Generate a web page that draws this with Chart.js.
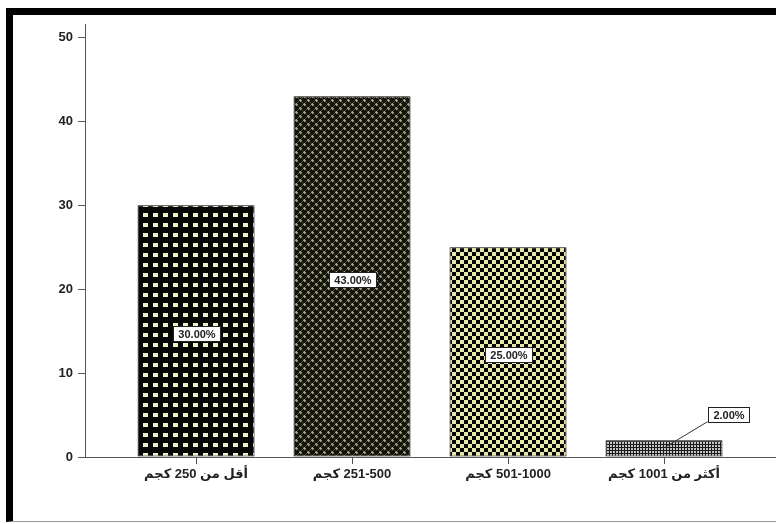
<!DOCTYPE html>
<html>
<head>
<meta charset="utf-8">
<script src="https://cdn.jsdelivr.net/npm/chart.js@4/dist/chart.umd.min.js"></script>
<style>
  html, body { margin: 0; padding: 0; background: #fff; }
  #wrap { position: relative; width: 776px; height: 524px; overflow: hidden; }
  #chart { position: absolute; left: 0; top: 0; }
  #frame {
    position: absolute; left: 6px; top: 8px; width: 800px; height: 506px;
    border-top: 7px solid #000; border-left: 7px solid #000; border-bottom: 1px solid #999;
    pointer-events: none;
  }
</style>
</head>
<body>
<div id="wrap">
  <canvas id="chart" width="776" height="524" dir="rtl"></canvas>
  <div id="frame"></div>
</div>
<script>
const categories = ["أقل من 250 كجم", "251-500 كجم", "501-1000 كجم", "أكثر من 1001 كجم"];
const percents = [30, 43, 25, 2];
const yTicks = [0, 10, 20, 30, 40, 50];

const FONT = '"Liberation Sans", "DejaVu Sans", Arial, sans-serif';

// small repeating tiles for the bar fills
function tile(size, draw) {
  const c = document.createElement("canvas");
  c.width = c.height = size;
  const g = c.getContext("2d");
  draw(g);
  return g.createPattern(c, "repeat");
}

const dots = tile(10, g => {
  g.fillStyle = "#060604"; g.fillRect(0, 0, 10, 10);
  g.fillStyle = "#eef0c6"; g.fillRect(3, 3, 5, 4);
});

const diamonds = tile(8, g => {
  g.fillStyle = "#14140c"; g.fillRect(0, 0, 8, 8);
  g.fillStyle = "#4e4e3a";
  for (let i = 0; i < 8; i++) { g.fillRect(i, i, 1, 1); g.fillRect(7 - i, i, 1, 1); }
  g.fillStyle = "#a4a486";
  [[4, 4], [0, 0], [8, 0], [0, 8], [8, 8]].forEach(([x, y]) => {
    g.fillRect(x - 1, y, 3, 1); g.fillRect(x, y - 1, 1, 3);
  });
});

const checks = tile(8, g => {
  g.fillStyle = "#050503"; g.fillRect(0, 0, 8, 8);
  g.fillStyle = "#e8e8aa";
  g.fillRect(0, 0, 4, 4); g.fillRect(4, 4, 4, 4);
});

const mesh = tile(3, g => {
  g.fillStyle = "#c4c4c4"; g.fillRect(0, 0, 3, 3);
  g.fillStyle = "#1a1a1a"; g.fillRect(0, 0, 3, 1); g.fillRect(0, 0, 1, 3);
});

const fills = [dots, diamonds, checks, mesh];

// boxed percentage labels inside the bars; a short bar gets its box off to the side
const boxLabels = {
  id: "boxLabels",
  afterDatasetsDraw(chart) {
    const ctx = chart.ctx;
    const meta = chart.getDatasetMeta(0);
    ctx.save();
    ctx.direction = "ltr";
    ctx.font = "bold 11px " + FONT;
    ctx.textAlign = "center";
    ctx.textBaseline = "middle";
    meta.data.forEach((bar, i) => {
      const txt = percents[i].toFixed(2) + "%";
      const w = Math.round(ctx.measureText(txt).width) + 10;
      const h = 15;
      let cx = bar.x;
      let cy = (bar.y + bar.base) / 2 + 3;
      if (bar.base - bar.y < 30) {
        const ax = bar.x + 1, ay = (bar.y + bar.base) / 2 - 1;
        cx = bar.x + 64;
        cy = bar.y - 26;
        ctx.strokeStyle = "#333";
        ctx.lineWidth = 1;
        ctx.beginPath();
        ctx.moveTo(cx - w / 2, cy + h / 2);
        ctx.lineTo(ax, ay);
        ctx.stroke();
      }
      const x0 = Math.round(cx - w / 2) + 0.5, y0 = Math.round(cy - h / 2) + 0.5;
      ctx.fillStyle = "#fff";
      ctx.fillRect(x0, y0, w, h);
      ctx.strokeStyle = "#222";
      ctx.lineWidth = 1;
      ctx.strokeRect(x0, y0, w, h);
      ctx.fillStyle = "#222";
      ctx.fillText(txt, x0 + w / 2, y0 + h / 2 + 0.5);
    });
    ctx.restore();
  }
};

const ctx = document.getElementById("chart");
new Chart(ctx, {
  type: "bar",
  data: {
    datasets: [{
      data: percents.map((v, i) => ({ x: i, y: v })),
      backgroundColor: fills,
      borderColor: "#000",
      borderWidth: 1,
      borderSkipped: false,
      barPercentage: 0.75,
      categoryPercentage: 1
    }]
  },
  options: {
    responsive: false,
    animation: false,
    layout: { padding: { top: 24, left: 0, right: 0, bottom: 0 } },
    plugins: { legend: { display: false }, tooltip: { enabled: false } },
    scales: {
      x: {
        type: "linear",
        offset: false,
        min: -0.712,
        max: 3.718,
        afterBuildTicks: s => { s.ticks = categories.map((_, i) => ({ value: i })); },
        afterFit: s => { s.height = 67; },
        grid: { offset: false, drawOnChartArea: false, drawTicks: true, tickLength: 7, color: "#555" },
        border: { display: true, color: "#555", width: 1 },
        ticks: {
          autoSkip: false,
          maxRotation: 0,
          padding: 3,
          color: "#222",
          font: { family: FONT, size: 13, weight: "bold" },
          callback: v => categories[v]
        }
      },
      y: {
        min: 0,
        max: 51.6,
        afterBuildTicks: s => { s.ticks = yTicks.map(v => ({ value: v })); },
        afterFit: s => { s.width = 85; },
        grid: { drawOnChartArea: false, drawTicks: true, tickLength: 7, color: "#555" },
        border: { display: true, color: "#555", width: 1 },
        ticks: {
          padding: 5,
          color: "#222",
          font: { family: FONT, size: 13, weight: "bold" }
        }
      }
    }
  },
  plugins: [boxLabels]
});
</script>
</body>
</html>
